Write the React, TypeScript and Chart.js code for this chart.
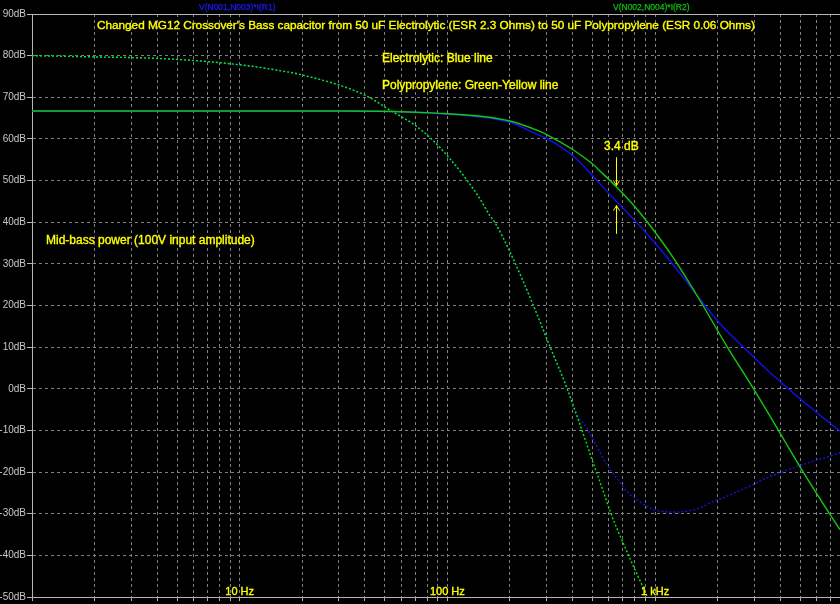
import { useEffect, useRef } from "react";
import { Chart, registerables } from "chart.js";

Chart.register(...registerables);

// ---- Data (frequency in Hz, level in dB) ----
const polyMagFreq = [1, 10, 30, 55, 89, 148, 200, 279, 302, 403, 502, 543, 645, 785, 980, 1223, 1592, 2218, 2971, 3908, 5023, 6877, 7770];
const polyMagDb = [66.7, 66.7, 66.7, 66.6, 66.2, 65.4, 64.3, 61.8, 61.0, 57.4, 53.9, 52.3, 48.7, 44.2, 38.2, 31.5, 22.4, 10.2, 0.1, -9.8, -19.0, -29.8, -33.8];

const elecMagFreq = [1, 10, 30, 55, 89, 148, 200, 279, 302, 403, 502, 543, 645, 785, 945, 1137, 1362, 1592, 2051, 2863, 3864, 4986, 7770];
const elecMagDb = [66.7, 66.7, 66.7, 66.6, 66.1, 65.2, 64.0, 60.8, 60.1, 55.9, 51.1, 49.2, 45.2, 40.8, 36.4, 31.7, 26.8, 22.4, 15.7, 8.5, 2.4, -2.4, -10.2];

const polyPhaseFreq = [1, 1.97, 3.7, 6.9, 11.2, 15.6, 19.5, 39.4, 55, 68.5, 85.5, 103, 123, 143.6, 160, 169, 200, 259, 312, 377, 435, 507, 574, 607, 741, 914];
const polyPhaseDb = [80.0, 79.7, 79.4, 78.6, 77.5, 76.4, 75.5, 70.7, 66.4, 63.6, 59.6, 55.2, 50.4, 45.6, 41.6, 40.0, 32.9, 20.1, 10.1, 0.1, -8.6, -18.2, -25.8, -29.4, -39.7, -49.7];

const elecPhaseFreq = [1, 1.97, 3.7, 6.9, 11.2, 15.6, 19.5, 39.4, 55, 68.5, 85.5, 103, 123, 143.6, 160, 169, 200, 259, 312, 377, 411, 469, 504, 585, 653, 730, 815, 911, 1018, 1271, 1644, 1837, 2218, 2962, 3459, 4618, 7770];
const elecPhaseDb = [80.0, 79.7, 79.4, 78.6, 77.5, 76.4, 75.5, 70.7, 66.4, 63.6, 59.6, 55.2, 50.4, 45.6, 41.6, 40.0, 32.9, 20.1, 10.1, 0.1, -5.4, -9.4, -12.2, -18.2, -21.4, -24.6, -26.6, -28.2, -29.2, -29.6, -28.6, -27.4, -25.8, -23.0, -21.4, -19.0, -15.4];

// ---- Axes / labels ----
const xMinHz = 1;
const xMaxHz = 7770;
const yMinDb = -50;
const yMaxDb = 90;
const yStepDb = 10;
const gridMultipliers = [1, 2, 3, 4, 5, 6, 7, 8, 9];
const gridDecades = [1, 10, 100, 1000];
const xLabelFreqs = [10, 100, 1000];
const xLabelTexts = ["10 Hz", "100 Hz", "1 kHz"];

const traceNames = ["V(N001,N003)*I(R1)", "V(N002,N004)*I(R2)"];
const titleText = "Changed MG12 Crossover's Bass capacitor from 50 uF Electrolytic (ESR 2.3 Ohms) to 50 uF Polypropylene (ESR 0.06 Ohms)";
const noteBlue = "Electrolytic: Blue line";
const noteGreen = "Polypropylene: Green-Yellow line";
const noteMid = "Mid-bass power (100V input amplitude)";
const deltaText = "3.4 dB";
const arrowFreq = 645;
const downArrowDb = [55.6, 48.8];
const upArrowDb = [37.2, 44.0];

const YELLOW = "#ffff00";
const AXIS_GREY = "#b4b4b4";
const GRID_GREY = "#808080";
const FONT = "'Liberation Sans', Arial, sans-serif";

function toPoints(xs: number[], ys: number[]) {
  return xs.map((x, i) => ({ x, y: ys[i] }));
}

const bgPlugin = {
  id: "bgFill",
  beforeDraw(chart: any) {
    const ctx = chart.ctx;
    ctx.save();
    ctx.fillStyle = "#000000";
    ctx.fillRect(0, 0, chart.width, chart.height);
    ctx.restore();
  },
};

function drawArrow(ctx: CanvasRenderingContext2D, x: number, yFrom: number, yTo: number) {
  const dir = yTo > yFrom ? 1 : -1;
  ctx.beginPath();
  ctx.moveTo(x, yFrom);
  ctx.lineTo(x, yTo);
  ctx.moveTo(x - 3, yTo - dir * 5);
  ctx.lineTo(x, yTo);
  ctx.lineTo(x + 3, yTo - dir * 5);
  ctx.stroke();
}

function boldText(ctx: CanvasRenderingContext2D, text: string, x: number, y: number) {
  ctx.fillText(text, x, y);
  ctx.strokeText(text, x, y);
}

const overlayPlugin = {
  id: "ltspiceOverlay",
  beforeDatasetsDraw(chart: any) {
    const ctx = chart.ctx;
    const a = chart.chartArea;
    ctx.save();
    ctx.strokeStyle = AXIS_GREY;
    ctx.lineWidth = 1;
    const yt = Math.round(a.top) + 0.5;
    ctx.beginPath();
    ctx.moveTo(a.left, yt);
    ctx.lineTo(a.right, yt);
    ctx.stroke();
    ctx.restore();
  },
  afterDraw(chart: any) {
    const ctx: CanvasRenderingContext2D = chart.ctx;
    const xs = chart.scales.x;
    const ys = chart.scales.y;
    ctx.save();
    ctx.textBaseline = "alphabetic";
    ctx.textAlign = "left";
    // trace names in the header strip
    ctx.font = `8.5px ${FONT}`;
    ctx.lineWidth = 0.25;
    ctx.fillStyle = "#1a1aff";
    ctx.strokeStyle = "#1a1aff";
    boldText(ctx, traceNames[0], 199, 10);
    ctx.fillStyle = "#10c010";
    ctx.strokeStyle = "#10c010";
    boldText(ctx, traceNames[1], 613, 10);

    // annotation texts
    ctx.fillStyle = YELLOW;
    ctx.strokeStyle = YELLOW;
    ctx.lineWidth = 0.35;
    ctx.font = `11.75px ${FONT}`;
    boldText(ctx, titleText, 97, 29);
    ctx.font = `12px ${FONT}`;
    boldText(ctx, noteBlue, 382, 62);
    boldText(ctx, noteGreen, 382, 89);
    boldText(ctx, noteMid, 46, 243.5);
    boldText(ctx, deltaText, 604, 150);

    // frequency labels inside the plot
    ctx.font = `11px ${FONT}`;
    ctx.textAlign = "center";
    xLabelFreqs.forEach((f, i) => {
      boldText(ctx, xLabelTexts[i], xs.getPixelForValue(f), 595);
    });

    // 3.4 dB arrows
    ctx.strokeStyle = YELLOW;
    ctx.lineWidth = 1;
    const ax = Math.round(xs.getPixelForValue(arrowFreq)) + 0.5;
    drawArrow(ctx, ax, ys.getPixelForValue(downArrowDb[0]), ys.getPixelForValue(downArrowDb[1]));
    drawArrow(ctx, ax, ys.getPixelForValue(upArrowDb[0]), ys.getPixelForValue(upArrowDb[1]));
    ctx.restore();
  },
};

export default function App() {
  const canvasRef = useRef<HTMLCanvasElement | null>(null);

  useEffect(() => {
    const canvas = canvasRef.current;
    if (!canvas) return;
    const gridFreqs: number[] = [];
    gridDecades.forEach((d) => gridMultipliers.forEach((m) => {
      const v = d * m;
      if (v >= xMinHz && v <= xMaxHz) gridFreqs.push(v);
    }));

    const chart = new Chart(canvas, {
      type: "line",
      data: {
        datasets: [
          {
            label: "Polypropylene power",
            data: toPoints(polyMagFreq, polyMagDb),
            borderColor: "#14c814",
            borderWidth: 1.4,
            pointRadius: 0,
            cubicInterpolationMode: "monotone",
            order: 0,
          },
          {
            label: "Polypropylene phase",
            data: toPoints(polyPhaseFreq, polyPhaseDb),
            borderColor: "#00f000",
            borderWidth: 1.4,
            borderDash: [2, 2],
            pointRadius: 0,
            cubicInterpolationMode: "monotone",
            order: 1,
          },
          {
            label: "Electrolytic power",
            data: toPoints(elecMagFreq, elecMagDb),
            borderColor: "#1010f0",
            borderWidth: 1.4,
            pointRadius: 0,
            cubicInterpolationMode: "monotone",
            order: 2,
          },
          {
            label: "Electrolytic phase",
            data: toPoints(elecPhaseFreq, elecPhaseDb),
            borderColor: "#1414e6",
            borderWidth: 1.4,
            borderDash: [2, 2],
            pointRadius: 0,
            cubicInterpolationMode: "monotone",
            order: 3,
          },
        ],
      },
      options: {
        animation: false,
        responsive: false,
        maintainAspectRatio: false,
        events: [],
        layout: { padding: { top: 14, right: 0, left: 0, bottom: 0 } },
        plugins: {
          legend: { display: false },
          tooltip: { enabled: false },
          title: { display: false },
        },
        scales: {
          x: {
            type: "logarithmic",
            min: xMinHz,
            max: xMaxHz,
            afterBuildTicks: (scale: any) => {
              scale.ticks = gridFreqs.map((v) => ({ value: v }));
            },
            afterFit: (scale: any) => {
              scale.height = 5;
            },
            ticks: { display: false },
            grid: {
              color: GRID_GREY,
              lineWidth: 1,
              drawTicks: true,
              tickLength: 4,
              tickColor: AXIS_GREY,
            },
            border: { display: true, color: AXIS_GREY, width: 1, dash: [3, 3] },
          },
          y: {
            type: "linear",
            min: yMinDb,
            max: yMaxDb,
            afterFit: (scale: any) => {
              scale.width = 32;
            },
            ticks: {
              stepSize: yStepDb,
              color: "#c8c8c8",
              padding: 1,
              font: { family: FONT, size: 10 },
              callback: (v: any) => `${v}dB`,
            },
            grid: {
              color: GRID_GREY,
              lineWidth: 1,
              drawTicks: true,
              tickLength: 5,
              tickColor: AXIS_GREY,
            },
            border: { display: true, color: AXIS_GREY, width: 1, dash: [3, 3] },
          },
        },
      },
      plugins: [bgPlugin, overlayPlugin],
    } as any);

    return () => chart.destroy();
  }, []);

  return (
    <div style={{ position: "absolute", left: 0, top: 0, width: 840, height: 604, background: "#000" }}>
      <canvas ref={canvasRef} width={840} height={604} style={{ display: "block" }} />
    </div>
  );
}
